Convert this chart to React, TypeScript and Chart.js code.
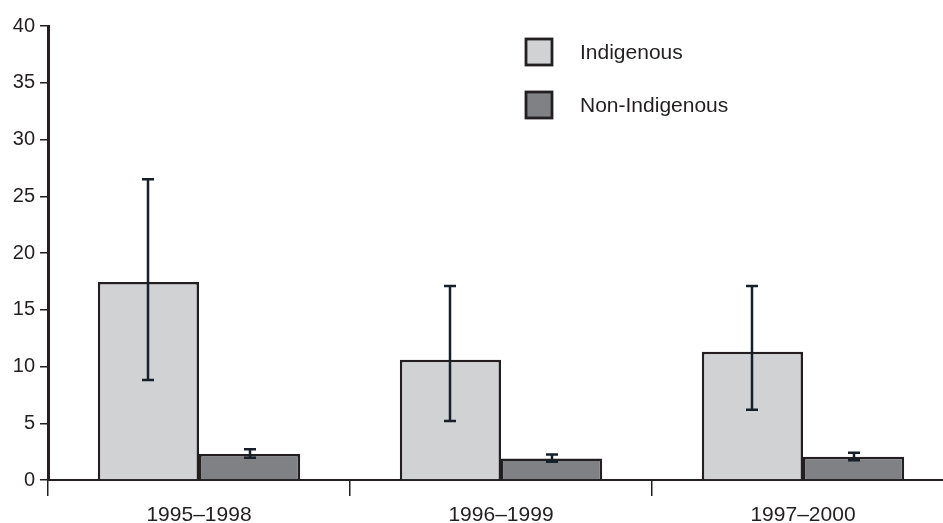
import React, { useEffect, useRef } from "react";
import { Chart, registerables } from "chart.js";

Chart.register(...registerables);

const categories = ["1995–1998", "1996–1999", "1997–2000"];
const seriesNames = ["Indigenous", "Non-Indigenous"];
const indigenous = [17.45, 10.6, 11.3];
const nonIndigenous = [2.3, 1.9, 2.05];
const indigenousLow = [8.8, 5.2, 6.2];
const indigenousHigh = [26.5, 17.1, 17.1];
const nonIndigenousLow = [1.95, 1.6, 1.75];
const nonIndigenousHigh = [2.7, 2.25, 2.4];
const yTicks = [0, 5, 10, 15, 20, 25, 30, 35, 40];

const INK = "#231f20";
const FONT = "'Liberation Sans', Arial, sans-serif";
const colors = ["#d1d2d4", "#808184"];

const errorLows = [indigenousLow, nonIndigenousLow];
const errorHighs = [indigenousHigh, nonIndigenousHigh];

const errorBarPlugin = {
  id: "errorBars",
  afterDatasetsDraw(chart: any) {
    const ctx = chart.ctx;
    const y = chart.scales.y;
    ctx.save();
    ctx.strokeStyle = "#16202a";
    ctx.lineWidth = 2.5;
    chart.data.datasets.forEach((_: any, i: number) => {
      const meta = chart.getDatasetMeta(i);
      meta.data.forEach((el: any, j: number) => {
        const x = Math.round(el.x);
        const top = y.getPixelForValue(errorHighs[i][j]);
        const bot = y.getPixelForValue(errorLows[i][j]);
        ctx.beginPath();
        ctx.moveTo(x, top);
        ctx.lineTo(x, bot);
        ctx.moveTo(x - 6, top);
        ctx.lineTo(x + 6, top);
        ctx.moveTo(x - 6, bot);
        ctx.lineTo(x + 6, bot);
        ctx.stroke();
      });
    });
    ctx.restore();
  },
};

const legendPlugin = {
  id: "customLegend",
  afterDraw(chart: any) {
    const ctx = chart.ctx;
    ctx.save();
    const rows = [52, 105];
    chart.data.datasets.forEach((ds: any, i: number) => {
      const cy = rows[i];
      ctx.fillStyle = ds.backgroundColor;
      ctx.fillRect(526, cy - 13, 26, 26);
      ctx.strokeStyle = INK;
      ctx.lineWidth = 2.8;
      ctx.strokeRect(526, cy - 13, 26, 26);
      ctx.fillStyle = INK;
      ctx.font = `21px ${FONT}`;
      ctx.textAlign = "left";
      ctx.textBaseline = "middle";
      ctx.fillText(ds.label, 580, cy + 1);
    });
    ctx.restore();
  },
};

export default function App() {
  const ref = useRef<HTMLCanvasElement>(null);
  useEffect(() => {
    const chart = new Chart(ref.current as HTMLCanvasElement, {
      type: "bar",
      data: {
        labels: categories,
        datasets: [
          {
            label: seriesNames[0],
            data: indigenous,
            backgroundColor: colors[0],
            borderColor: INK,
            borderWidth: 2.5,
            categoryPercentage: 0.67,
            barPercentage: 1,
          },
          {
            label: seriesNames[1],
            data: nonIndigenous,
            backgroundColor: colors[1],
            borderColor: INK,
            borderWidth: 2.5,
            categoryPercentage: 0.67,
            barPercentage: 1,
          },
        ],
      },
      options: {
        responsive: false,
        animation: false,
        devicePixelRatio: 1,
        layout: { padding: { top: 26, right: 6, left: 0, bottom: 0 } },
        plugins: { legend: { display: false }, tooltip: { enabled: false } },
        scales: {
          x: {
            offset: true,
            grid: {
              offset: true,
              drawOnChartArea: false,
              drawTicks: true,
              tickLength: 16,
              color: INK,
              lineWidth: 1.5,
            },
            border: { display: true, color: INK, width: 2 },
            ticks: {
              color: INK,
              font: { family: FONT, size: 21 },
              padding: 7,
              maxRotation: 0,
            },
            afterFit(scale: any) {
              scale.height = 43;
            },
          },
          y: {
            min: 0,
            max: 40,
            afterBuildTicks(scale: any) {
              scale.ticks = yTicks.map((v) => ({ value: v }));
            },
            grid: {
              drawOnChartArea: false,
              drawTicks: true,
              tickLength: 8,
              color: INK,
              lineWidth: 1.5,
            },
            border: { display: true, color: INK, width: 3 },
            ticks: {
              color: INK,
              font: { family: FONT, size: 20 },
              padding: 5,
            },
            afterFit(scale: any) {
              scale.width = 48;
            },
          },
        },
      },
      plugins: [errorBarPlugin, legendPlugin],
    });
    return () => chart.destroy();
  }, []);
  return (
    <div
      style={{
        position: "absolute",
        left: 0,
        top: 0,
        width: 943,
        height: 523,
        overflow: "hidden",
        background: "#fff",
      }}
    >
      <canvas ref={ref} width={960} height={523} style={{ display: "block" }} />
    </div>
  );
}
